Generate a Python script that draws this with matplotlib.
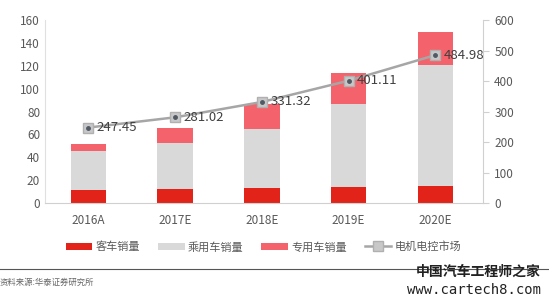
import matplotlib.pyplot as plt
import numpy as np

plt.rcParams['font.family'] = ['Noto Sans CJK SC', 'DejaVu Sans']

years = ["2016A", "2017E", "2018E", "2019E", "2020E"]
bus = [11, 12, 13, 14, 15]
passenger = [34.5, 40.5, 51.5, 73, 106]
special = [6.5, 13, 22, 27, 28.5]
motor_market = [247.45, 281.02, 331.32, 401.11, 484.98]

c_bus = "#E2231A"
c_pass = "#D9D9D9"
c_spec = "#F4636B"
c_line = "#A6A6A6"
c_text = "#595959"

fig = plt.figure(figsize=(5.49, 2.99), dpi=100)
ax = fig.add_axes([0.082, 0.321, 0.798, 0.612])
ax2 = ax.twinx()

x = np.arange(len(years))
w = 0.41
bot2 = np.array(bus) + np.array(passenger)
ax.bar(x, bus, w, color=c_bus, label="客车销量", zorder=2)
ax.bar(x, passenger, w, bottom=bus, color=c_pass, label="乘用车销量", zorder=2)
ax.bar(x, special, w, bottom=bot2, color=c_spec, label="专用车销量", zorder=2)

ax.set_ylim(0, 160)
ax.set_yticks(range(0, 161, 20))
ax.set_xlim(-0.5, 4.55)
ax.set_xticks(x)
ax.set_xticklabels(years)

ax2.plot(x, motor_market, color=c_line, lw=1.8, marker="s", ms=7,
         mfc="#C8C8C8", mec="#B0B0B0", label="电机电控市场", zorder=3)
ax2.plot(x, motor_market, ls="none", marker="o", ms=2.5, color="#505A64", zorder=4)
for xi, v in zip(x, motor_market):
    ax2.annotate(f"{v:.2f}", (xi, v), xytext=(6, 0), textcoords="offset points",
                 va="center", ha="left", fontsize=9.5, color="#404040")
ax2.set_ylim(0, 600)
ax2.set_yticks(range(0, 601, 100))

for a in (ax, ax2):
    a.tick_params(labelsize=8.5, colors=c_text, length=0)
    for s in a.spines.values():
        s.set_visible(False)
ax.spines["left"].set_visible(True)
ax.spines["left"].set_color("#E0E0E0")
ax.spines["bottom"].set_visible(True)
ax.spines["bottom"].set_color("#D0D0D0")
ax2.spines["right"].set_visible(True)
ax2.spines["right"].set_color("#D0D0D0")
ax2.tick_params(axis="y", length=4, color="#D0D0D0", pad=4)
ax.tick_params(axis="x", pad=8)

h1, l1 = ax.get_legend_handles_labels()
h2, l2 = ax2.get_legend_handles_labels()
leg = fig.legend(h1 + h2, l1 + l2, loc="center", bbox_to_anchor=(0.48, 0.174),
                 ncol=4, frameon=False, fontsize=8, handlelength=2.4,
                 handleheight=0.7, handletextpad=0.3, columnspacing=1.6,
                 labelcolor=c_text)

fig.add_artist(plt.Line2D([0, 1], [0.102, 0.102], color="#555555", lw=0.8))
fig.text(0.0, 0.057, "资料来源:华泰证券研究所", fontsize=6, color="#666666", va="center")
fig.text(0.985, 0.09, "中国汽车工程师之家", fontsize=10, color="#222222",
         ha="right", va="center", fontweight="bold")
fig.text(0.985, 0.03, "www.cartech8.com", fontsize=10, color="#222222",
         ha="right", va="center", family="DejaVu Sans Mono")

fig.savefig("out.png", dpi=100)
